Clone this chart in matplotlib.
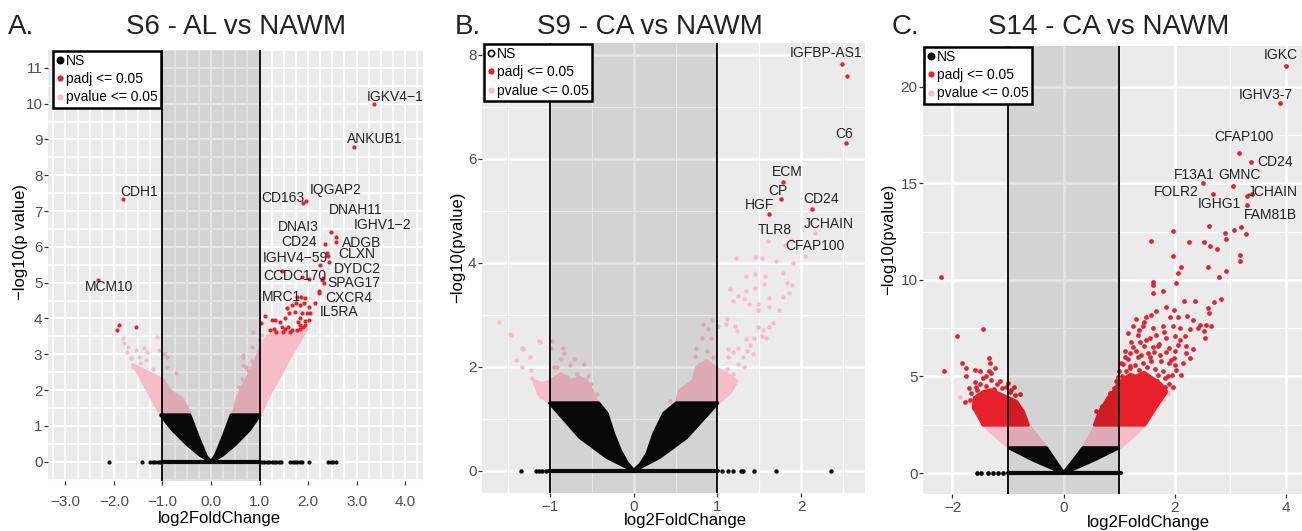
import matplotlib
matplotlib.use("Agg")
import matplotlib.pyplot as plt
from matplotlib.lines import Line2D
from matplotlib.ticker import MultipleLocator

plt.rcParams['font.family'] = ['Liberation Sans', 'DejaVu Sans']

RED = '#e8202a'
PINK = '#f6bdc9'
BLACK = '#0a0a0a'
PANEL_BG = '#ebebeb'
TEXT = '#222222'

legend_labels = ['NS', 'padj <= 0.05', 'pvalue <= 0.05']

# ---------------- A. S6 - AL vs NAWM ----------------
# (gene, log2FoldChange, -log10 p, group)
a_genes = [
    ('IGKV4\u22121', 3.35, 10.0, 'padj'), ('ANKUB1', 2.94, 8.78, 'padj'),
    ('CDH1', -1.81, 7.34, 'padj'), ('CD163', 1.90, 7.22, 'padj'),
    ('IQGAP2', 1.96, 7.29, 'padj'), ('DNAH11', 2.48, 6.41, 'padj'),
    ('IGHV1\u22122', 2.58, 6.27, 'padj'), ('ADGB', 2.58, 6.15, 'padj'),
    ('CD24', 2.35, 6.07, 'padj'), ('DNAI3', 2.40, 5.82, 'padj'),
    ('CLXN', 2.44, 5.57, 'padj'), ('IGHV4\u221259', 2.24, 5.50, 'padj'),
    ('CCDC170', 1.47, 5.33, 'padj'), ('DYDC2', 2.29, 5.08, 'padj'),
    ('SPAG17', 2.32, 5.00, 'padj'), ('CXCR4', 2.22, 4.77, 'padj'),
    ('MRC1', 1.75, 4.44, 'padj'), ('IL5RA', 2.15, 4.44, 'padj'),
    ('MCM10', -2.33, 5.08, 'padj'),
]
a_red = [
    (1.78, 4.61), (1.86, 4.61), (1.94, 4.56), (1.84, 4.38), (1.92, 4.42),
    (2.01, 4.33), (2.04, 4.15), (1.84, 4.00), (1.93, 3.94), (2.01, 3.95),
    (1.80, 3.91), (1.61, 4.15), (1.53, 4.00), (1.42, 3.91), (1.32, 3.95),
    (1.25, 3.97), (1.11, 4.06), (1.04, 3.87), (1.22, 3.68), (1.29, 3.72),
    (1.46, 3.77), (1.53, 3.72), (1.59, 3.75), (1.66, 3.68), (1.77, 3.68),
    (1.84, 3.72), (1.90, 3.75), (1.94, 3.82), (1.49, 3.63), (1.35, 3.63),
    (1.63, 3.63), (1.84, 3.82), (1.87, 4.15), (1.97, 4.15), (1.73, 4.19),
    (1.66, 4.38), (1.56, 4.29), (1.87, 5.17), (2.03, 5.09), (2.22, 4.71),
    (2.42, 5.75), (2.30, 5.12), (-1.90, 3.82), (-1.93, 3.68), (-1.54, 3.75),
]
a_pink = [
    (0.87, 3.63), (0.84, 3.21), (0.66, 2.93), (0.65, 2.70), (0.77, 2.56),
    (0.84, 2.42), (0.70, 2.23), (0.63, 1.86), (0.58, 2.09), (0.65, 2.98),
    (0.73, 2.64), (0.84, 2.81), (0.88, 2.53), (0.63, 2.30), (0.59, 1.82),
    (1.00, 3.40), (1.05, 3.55), (1.95, 3.70),
    (-1.82, 3.45), (-1.79, 3.31), (-1.72, 3.21), (-1.74, 3.07), (-1.55, 3.12),
    (-1.49, 2.93), (-1.39, 3.17), (-1.32, 3.07), (-1.12, 3.49), (-1.08, 3.12),
    (-0.97, 3.02), (-0.90, 2.93), (-0.73, 2.47), (-0.90, 2.65), (-1.46, 2.75),
    (-1.61, 2.65), (-1.35, 2.84), (-1.65, 2.90), (-1.20, 2.60),
]
a_ns_zero = [-2.11, -1.43, -1.25, -1.20, -1.15, -1.10, -1.05, 1.05, 1.10, 1.15,
             1.20, 1.25, 1.30, 1.35, 1.40, 1.45, 1.63, 1.68, 1.73, 1.78, 1.83,
             1.88, 2.01, 2.42, 2.47, 2.52, 2.57]
a_ns_zero_span = [-1.0, 1.02]
# outlines of the densely packed point clouds
a_pink_left = [(-1.03, 1.3), (-1.27, 1.91), (-1.51, 2.51), (-1.61, 2.70), (-1.27, 2.47),
               (-0.99, 2.28), (-0.86, 2.0), (-0.58, 1.72), (-0.44, 1.35)]
a_pink_right = [(0.45, 1.3), (0.56, 1.82), (0.73, 2.28), (0.90, 2.75), (1.0, 3.12),
                (1.15, 3.49), (1.3, 3.6), (1.95, 3.65), (1.63, 2.93), (1.35, 2.23),
                (1.15, 1.75), (1.01, 1.3)]
a_ns_left = [(-1.03, 1.3), (-0.44, 1.3), (-0.27, 0.70), (-0.10, 0.14), (0, 0),
             (-0.23, 0.19), (-0.51, 0.51), (-0.79, 0.89)]
a_ns_right = [(0.42, 1.3), (1.0, 1.3), (0.79, 0.89), (0.51, 0.5), (0.23, 0.18), (0, 0),
              (0.10, 0.18), (0.27, 0.75)]
a_red_blobs = []
a_xticks = [-3, -2, -1, 0, 1, 2, 3, 4]
a_xtick_labels = ['\u22123.0', '\u22122.0', '\u22121.0', '0.0', '1.0', '2.0', '3.0', '4.0']
a_yticks = list(range(0, 12))

# ---------------- B. S9 - CA vs NAWM ----------------
b_genes = [
    ('IGFBP-AS1', 2.49, 7.82, 'padj'), ('C6', 2.53, 6.31, 'padj'),
    ('ECM', 1.78, 5.55, 'padj'), ('CP', 1.76, 5.23, 'padj'),
    ('HGF', 1.62, 4.94, 'padj'), ('CD24', 2.13, 5.03, 'padj'),
    ('JCHAIN', 2.16, 4.57, 'pvalue'), ('TLR8', 1.60, 4.42, 'pvalue'),
    ('CFAP100', 1.88, 4.43, 'pvalue'),
]
b_red = [(2.54, 7.60)]
b_pink = [
    (1.22, 4.10), (1.45, 4.12), (1.53, 4.10), (1.70, 4.04), (1.90, 3.99), (2.05, 4.14),
    (1.34, 3.75), (1.45, 3.78), (1.57, 3.75), (1.78, 3.80), (1.55, 3.59), (1.45, 3.52),
    (1.34, 3.45), (1.83, 3.61), (1.89, 3.58), (1.15, 3.50), (1.24, 3.37), (1.19, 3.26),
    (1.32, 3.30), (1.38, 3.21), (1.48, 3.21), (1.48, 3.10), (1.61, 3.32), (1.62, 3.15),
    (1.73, 3.09), (1.78, 3.34), (1.85, 3.41), (1.66, 2.85), (1.61, 2.77), (1.54, 2.70),
    (1.48, 2.77), (1.53, 2.60), (1.58, 2.55), (1.43, 2.55), (1.34, 2.53), (1.23, 2.69),
    (1.11, 2.92), (1.10, 2.82), (1.21, 2.79), (0.94, 2.90), (1.01, 2.79), (0.83, 2.82),
    (0.89, 2.72), (0.92, 2.56), (0.82, 2.56), (0.74, 2.37), (0.73, 2.21), (0.87, 2.31),
    (0.95, 2.18), (0.79, 2.05), (1.13, 2.34), (1.13, 2.18), (1.19, 2.28), (1.25, 2.37),
    (1.31, 2.18), (1.35, 2.31), (1.39, 2.41), (1.42, 2.24), (1.25, 2.05), (1.32, 2.00),
    (1.11, 1.95), (1.19, 1.86), (1.07, 1.79), (1.13, 1.73), (1.03, 1.60), (1.07, 1.47),
    (1.80, 4.35), (0.43, 1.35),
    (-1.61, 2.87), (-1.48, 2.63), (-1.33, 2.37), (-1.13, 2.49), (-1.46, 2.61),
    (-1.12, 2.47), (-1.32, 2.34), (-1.24, 2.18), (-1.40, 2.13), (-1.33, 1.99),
    (-1.23, 1.94), (-1.21, 1.79), (-1.17, 1.70), (-1.11, 1.60), (-1.07, 1.50),
    (-0.98, 2.50), (-0.99, 2.37), (-0.84, 2.37), (-0.83, 2.27), (-0.87, 2.14),
    (-0.95, 1.99), (-0.91, 1.99), (-0.71, 2.14), (-0.76, 2.03), (-0.59, 2.05),
    (-0.55, 1.82), (-0.51, 1.66), (-0.44, 1.47), (-0.64, 1.76), (-0.68, 1.86),
    (-0.79, 1.80), (-0.87, 1.67), (-0.73, 1.60), (-0.79, 1.47), (-0.93, 1.50),
    (-1.01, 1.60), (-0.97, 1.41), (-0.64, 1.50), (-0.56, 1.41), (-0.68, 1.38),
    (-0.83, 1.34), (-0.89, 1.41), (-1.11, 1.41),
]
b_ns_zero = [-1.34, -1.17, -1.13, -1.09, -1.05, 1.05, 1.13, 1.19, 1.28, 1.30, 1.44,
             1.70, 2.35]
b_ns_zero_span = [-1.01, 1.01]
b_pink_left = [(-1.0, 1.3), (-0.44, 1.3), (-0.48, 1.47), (-0.56, 1.73), (-0.64, 1.79),
               (-0.75, 1.73), (-0.87, 1.86), (-0.99, 1.73), (-1.09, 1.67), (-1.19, 1.73),
               (-1.13, 1.47)]
b_pink_right = [(0.51, 1.3), (0.55, 1.54), (0.71, 1.73), (0.75, 1.98), (0.87, 2.11),
                (0.97, 1.98), (1.11, 1.86), (1.23, 1.73), (1.15, 1.5), (1.0, 1.3)]
b_ns_left = [(-1.0, 1.3), (-0.42, 1.3), (-0.32, 1.1), (-0.24, 0.70), (-0.16, 0.38),
             (-0.08, 0.15), (0, 0), (-0.32, 0.26), (-0.64, 0.64)]
b_ns_right = [(0.51, 1.3), (1.0, 1.3), (0.63, 0.64), (0.31, 0.26), (0, 0), (0.08, 0.12),
              (0.16, 0.32), (0.24, 0.70), (0.36, 1.1)]
b_red_blobs = []
b_xticks = [-1, 0, 1, 2]
b_xtick_labels = ['\u22121', '0', '1', '2']
b_yticks = [0, 2, 4, 6, 8]

# ---------------- C. S14 - CA vs NAWM ----------------
c_genes = [
    ('IGKC', 4.00, 21.07, 'padj'), ('IGHV3-7', 3.90, 19.17, 'padj'),
    ('CFAP100', 3.16, 16.55, 'padj'), ('CD24', 3.37, 16.12, 'padj'),
    ('F13A1', 2.51, 15.00, 'padj'), ('GMNC', 3.04, 14.88, 'padj'),
    ('FOLR2', 2.68, 14.45, 'padj'), ('JCHAIN', 3.39, 14.43, 'padj'),
    ('IGHG1', 3.30, 13.88, 'padj'), ('FAM81B', 3.28, 12.38, 'padj'),
]
c_red = [
    (3.30, 14.36), (1.97, 12.55), (1.58, 12.03), (2.62, 12.79), (2.26, 11.98),
    (2.53, 11.95), (2.64, 11.76), (2.76, 11.60), (2.90, 12.41), (2.92, 12.12),
    (3.07, 12.59), (3.19, 12.72), (3.17, 11.29), (3.17, 10.95), (1.96, 11.24),
    (2.12, 10.64), (2.06, 10.35), (2.03, 9.83), (2.60, 10.69), (2.80, 10.14),
    (2.92, 10.48), (2.83, 9.02), (1.60, 9.91), (1.61, 9.74), (1.79, 9.40),
    (1.61, 9.31), (2.17, 8.93), (2.36, 8.93), (2.60, 8.53), (2.62, 8.28),
    (2.57, 7.67), (2.66, 7.59), (2.45, 7.67), (2.42, 7.50), (2.53, 7.33),
    (2.54, 6.98), (2.27, 7.45), (2.22, 8.14), (2.33, 7.93), (2.70, 8.88),
    (1.30, 7.96), (1.48, 8.10), (1.57, 8.19), (1.67, 8.41), (1.85, 8.59),
    (1.91, 8.10), (1.99, 8.45), (2.05, 8.07), (1.16, 7.24), (1.33, 7.15),
    (1.43, 7.59), (1.61, 7.50), (1.79, 7.59), (1.97, 7.59), (2.09, 7.50),
    (2.18, 7.07), (2.06, 6.64), (2.21, 6.21), (2.32, 6.41), (2.27, 5.95),
    (2.15, 5.69), (2.12, 5.09), (2.03, 5.34), (1.94, 5.86), (1.85, 6.29),
    (1.73, 6.12), (1.61, 6.55), (1.49, 6.90), (1.37, 6.81), (1.25, 6.55),
    (1.19, 6.21), (1.34, 6.03), (1.52, 6.21), (1.67, 7.15), (1.85, 6.98),
    (1.03, 5.72), (1.06, 5.64), (1.19, 5.52), (1.88, 5.00), (1.96, 4.48),
    (1.72, 4.14), (1.45, 6.60), (1.72, 6.70), (2.00, 6.30), (1.10, 6.00),
    (0.83, 4.13), (0.94, 4.77), (0.59, 3.19),
    (1.05, 5.00), (1.12, 5.30), (1.20, 5.45), (1.28, 5.60), (1.35, 5.35),
    (1.42, 5.70), (1.50, 5.50), (1.58, 5.80), (1.65, 5.40), (1.70, 5.10),
    (1.78, 5.30), (1.82, 4.90), (1.90, 4.60), (1.40, 6.10), (1.30, 6.30),
    (1.55, 6.00), (1.75, 5.80), (1.62, 6.25), (1.15, 5.90), (1.00, 5.30),
    (0.98, 4.95), (1.90, 5.70), (2.00, 5.60), (1.95, 5.10), (1.25, 4.95),
    (1.48, 5.05), (1.68, 4.75), (1.38, 4.95), (1.10, 6.30), (1.22, 6.80),
    (1.35, 7.40), (1.55, 7.00), (1.70, 6.60), (1.90, 6.50), (2.10, 6.90),
    (2.20, 6.60), (1.80, 7.30), (2.00, 7.10), (1.45, 7.80), (1.25, 7.60),
    (0.90, 4.40), (0.76, 3.70), (0.70, 3.45), (1.82, 4.45), (1.98, 5.95),
    (-0.97, 4.22), (-0.88, 4.05), (-0.79, 4.10), (-1.03, 4.48), (-1.21, 4.14),
    (-1.33, 5.69), (-1.24, 5.43), (-1.30, 5.17), (-1.60, 5.34), (-1.51, 5.26),
    (-1.39, 5.00), (-1.75, 5.00), (-1.83, 5.72), (-1.75, 5.46), (-1.34, 5.98),
    (-1.45, 7.45), (-1.91, 7.07), (-2.15, 5.29), (-2.20, 10.17), (-1.77, 3.67),
    (-1.66, 4.14), (-1.57, 4.48), (-1.69, 3.79), (-1.62, 3.36),
    (-1.10, 4.40), (-1.20, 4.60), (-1.30, 4.80), (-1.40, 4.50), (-1.50, 4.60),
    (-1.55, 4.30), (-1.25, 4.35), (-0.95, 4.30), (-1.15, 4.75), (-1.45, 4.90),
    (-1.35, 5.30), (-1.60, 4.70), (-1.70, 4.40), (-1.00, 4.65), (-0.90, 4.45),
]
c_pink = [(-1.87, 3.96), (-1.51, 2.84), (1.88, 4.14), (1.79, 3.79), (1.70, 3.45),
          (1.61, 3.10), (1.95, 4.40)]
c_ns_zero = [-1.56, -1.48, -1.36, -1.27, -1.18, -1.09]
c_ns_zero_span = [-1.0, 1.04]
c_pink_left = [(-0.97, 1.3), (-1.45, 2.5), (-0.64, 2.5), (-0.31, 1.3)]
c_pink_right = [(0.35, 1.3), (0.59, 2.5), (1.46, 2.5), (1.25, 1.9), (1.0, 1.3)]
c_ns_left = [(-0.97, 1.3), (-0.31, 1.3), (-0.15, 0.62), (0, 0), (-0.55, 0.69)]
c_ns_right = [(0.35, 1.3), (0.98, 1.3), (0.55, 0.69), (0, 0), (0.17, 0.62)]
c_red_blobs = [
    [(0.56, 2.5), (0.65, 3.19), (0.80, 3.88), (0.92, 4.3), (1.0, 4.7), (1.1, 4.9),
     (1.2, 5.1), (1.3, 5.0), (1.45, 5.2), (1.6, 4.9), (1.75, 4.6), (1.85, 4.2),
     (1.73, 3.71), (1.61, 3.19), (1.46, 2.5)],
    [(-1.45, 2.5), (-0.64, 2.5), (-0.73, 3.2), (-0.85, 3.7), (-1.0, 3.9), (-1.15, 4.1),
     (-1.3, 4.3), (-1.45, 4.2), (-1.6, 3.9), (-1.62, 3.4), (-1.5, 2.8)],
]
c_xticks = [-2, 0, 2, 4]
c_xtick_labels = ['\u22122', '0', '2', '4']
c_yticks = [0, 5, 10, 15, 20]

# ---------------- layout (pixels of the 1302x531 figure) ----------------
W, H = 1302, 531

# gene label positions (data coords)
a_label_pos = {
    'IGKV4\u22121': (3.80, 10.2), 'ANKUB1': (3.38, 9.0), 'CDH1': (-1.49, 7.54),
    'CD163': (1.49, 7.36), 'IQGAP2': (2.56, 7.59), 'DNAH11': (2.99, 7.03),
    'IGHV1\u22122': (3.53, 6.61), 'DNAI3': (1.80, 6.55), 'CD24': (1.82, 6.15),
    'ADGB': (3.10, 6.12), 'CLXN': (3.01, 5.80), 'IGHV4\u221259': (1.73, 5.68),
    'DYDC2': (3.02, 5.37), 'CCDC170': (1.73, 5.19), 'SPAG17': (2.94, 4.98),
    'MRC1': (1.46, 4.61), 'CXCR4': (2.84, 4.58), 'IL5RA': (2.64, 4.17),
    'MCM10': (-2.10, 4.87),
}
b_label_pos = {
    'IGFBP-AS1': (2.29, 8.03), 'C6': (2.51, 6.47), 'ECM': (1.83, 5.75),
    'CP': (1.72, 5.38), 'HGF': (1.50, 5.12), 'CD24': (2.24, 5.22),
    'JCHAIN': (2.33, 4.75), 'TLR8': (1.68, 4.64), 'CFAP100': (2.16, 4.33),
}
c_label_pos = {
    'IGKC': (3.90, 21.64), 'IGHV3-7': (3.64, 19.57), 'CFAP100': (3.25, 17.38),
    'CD24': (3.81, 16.12), 'F13A1': (2.35, 15.40), 'GMNC': (3.16, 15.40),
    'FOLR2': (2.02, 14.54), 'JCHAIN': (3.76, 14.54), 'IGHG1': (2.80, 13.93),
    'FAM81B': (3.72, 13.36),
}

panels = [
    dict(box=(48, 50, 423, 481), xlim=(-3.36, 4.37), ylim=(-0.54, 11.5),
         xticks=a_xticks, xlabels=a_xtick_labels, yticks=a_yticks,
         xminor=0.25, yminor=0.5, major_lw=1.5, minor_lw=1.2, xpad=7,
         genes=a_genes, red=a_red, pink=a_pink, ns_zero=a_ns_zero,
         ns_span=a_ns_zero_span, pink_areas=[a_pink_left, a_pink_right],
         ns_areas=[a_ns_left, a_ns_right], red_areas=a_red_blobs,
         labels=a_label_pos, legend_dx=4, hollow_ns=False, ms=3.0,
         letter='A.', letter_x=8, title='S6 - AL vs NAWM', title_x=236,
         ylabel='\u2212log10(p value)', ylabel_xy=(21, 242), xlabel_xy=(219, 518)),
    dict(box=(482, 43, 865, 493), xlim=(-1.81, 2.76), ylim=(-0.43, 8.23),
         xticks=b_xticks, xlabels=b_xtick_labels, yticks=b_yticks,
         xminor=0.5, yminor=1.0, major_lw=1.8, minor_lw=0.9, xpad=2,
         genes=b_genes, red=b_red, pink=b_pink, ns_zero=b_ns_zero,
         ns_span=b_ns_zero_span, pink_areas=[b_pink_left, b_pink_right],
         ns_areas=[b_ns_left, b_ns_right], red_areas=b_red_blobs,
         labels=b_label_pos, legend_dx=1, hollow_ns=True, ms=3.2,
         letter='B.', letter_x=455, title='S9 - CA vs NAWM', title_x=650,
         ylabel='\u2212log10(pvalue)', ylabel_xy=(458, 247), xlabel_xy=(685, 520)),
    dict(box=(923, 46, 1302, 494), xlim=(-2.53, 4.29), ylim=(-1.08, 22.1),
         xticks=c_xticks, xlabels=c_xtick_labels, yticks=c_yticks,
         xminor=1.0, yminor=2.5, major_lw=1.8, minor_lw=0.9, xpad=2,
         genes=c_genes, red=c_red, pink=c_pink, ns_zero=c_ns_zero,
         ns_span=c_ns_zero_span, pink_areas=[c_pink_left, c_pink_right],
         ns_areas=[c_ns_left, c_ns_right], red_areas=c_red_blobs,
         labels=c_label_pos, legend_dx=0, hollow_ns=False, ms=3.4,
         letter='C.', letter_x=892, title='S14 - CA vs NAWM', title_x=1109,
         ylabel='\u2212log10(pvalue)', ylabel_xy=(889, 239), xlabel_xy=(1148, 523)),
]


def fill_area(ax, outline, color, z):
    xs, ys = zip(*outline)
    ax.fill(xs, ys, facecolor=color, edgecolor=color, lw=2.6, joinstyle='round', zorder=z)


def dots(ax, pts, color, ms, z):
    if not pts:
        return
    xs, ys = zip(*pts)
    ax.plot(xs, ys, ls='', marker='o', ms=ms, mew=0, color=color, zorder=z)


def draw_panel(fig, p):
    left, top, right, bottom = p['box']
    ax = fig.add_axes([left / W, 1 - bottom / H, (right - left) / W, (bottom - top) / H])
    ax.set_facecolor(PANEL_BG)
    for s in ax.spines.values():
        s.set_visible(False)
    ax.set_xlim(*p['xlim'])
    ax.set_ylim(*p['ylim'])

    ax.set_xticks(p['xticks'])
    ax.set_xticklabels(p['xlabels'])
    ax.set_yticks(p['yticks'])
    ax.xaxis.set_minor_locator(MultipleLocator(p['xminor']))
    ax.yaxis.set_minor_locator(MultipleLocator(p['yminor']))
    ax.set_axisbelow(True)
    ax.grid(which='major', color='white', lw=p['major_lw'])
    ax.grid(which='minor', color='white', lw=p['minor_lw'])
    ax.tick_params(which='major', length=3, width=0.9, color='#333333',
                   labelsize=11, labelcolor='#4d4d4d')
    ax.tick_params(axis='x', which='major', pad=p['xpad'])
    ax.tick_params(axis='y', which='major', pad=1)
    ax.tick_params(which='minor', length=0)

    ms = p['ms']
    for area in p['pink_areas']:
        fill_area(ax, area, PINK, 2.0)
    dots(ax, p['pink'], PINK, ms, 2.1)
    for area in p['ns_areas']:
        fill_area(ax, area, BLACK, 2.2)
    ax.plot(p['ns_span'], [0, 0], color=BLACK, lw=3, solid_capstyle='round', zorder=2.3)
    dots(ax, [(x, 0) for x in p['ns_zero']], BLACK, ms, 2.3)
    for area in p['red_areas']:
        fill_area(ax, area, RED, 2.4)
    dots(ax, p['red'], RED, ms, 2.5)
    for name, fc, pv, grp in p['genes']:
        dots(ax, [(fc, pv)], RED if grp == 'padj' else PINK, ms, 2.6)

    # grey band between the fold change cut-offs, drawn over the points
    ax.axvspan(-1, 1, color='black', alpha=0.1, lw=0, zorder=3)
    ax.axvline(-1, color='black', lw=1.3, zorder=3.5)
    ax.axvline(1, color='black', lw=1.3, zorder=3.5)

    for name, (lx, ly) in p['labels'].items():
        ax.text(lx, ly, name, ha='center', va='center', fontsize=10, color=TEXT,
                zorder=5, clip_on=False)

    ns_handle = Line2D([], [], ls='', marker='o', ms=4.5, color=BLACK,
                       mfc='none' if p['hollow_ns'] else BLACK, mew=1.2)
    handles = [ns_handle,
               Line2D([], [], ls='', marker='o', ms=4.5, color=RED, mew=0),
               Line2D([], [], ls='', marker='o', ms=4.5, color=PINK, mew=0)]
    leg = ax.legend(handles, legend_labels, loc='upper left',
                    bbox_to_anchor=(p['legend_dx'] / (right - left), 1.0),
                    frameon=True, fancybox=False, framealpha=1, edgecolor='black',
                    fontsize=10, handlelength=0.5, handletextpad=0.2,
                    labelspacing=0.3, borderpad=0.25, borderaxespad=0.05)
    leg.get_frame().set_linewidth(1.8)
    leg.set_zorder(10)

    fig.text(p['letter_x'] / W, 1 - 34 / H, p['letter'], fontsize=20, color=TEXT,
             ha='left', va='baseline')
    fig.text(p['title_x'] / W, 1 - 34 / H, p['title'], fontsize=20, color=TEXT,
             ha='center', va='baseline')
    yx, yy = p['ylabel_xy']
    fig.text(yx / W, 1 - yy / H, p['ylabel'], rotation=90, fontsize=12, color='black',
             ha='center', va='center')
    xx, xy = p['xlabel_xy']
    fig.text(xx / W, 1 - xy / H, 'log2FoldChange', fontsize=12, color='black',
             ha='center', va='center')
    return ax


def main():
    fig = plt.figure(figsize=(W / 100, H / 100), dpi=100)
    for p in panels:
        draw_panel(fig, p)
    fig.savefig('out.png', dpi=100)


if __name__ == '__main__':
    main()
